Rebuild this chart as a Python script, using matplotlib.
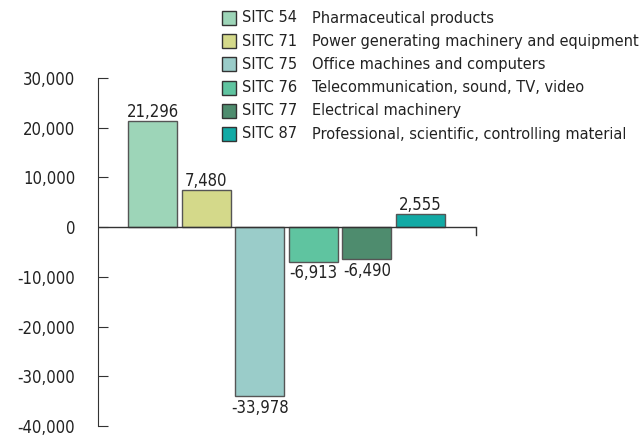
import matplotlib.pyplot as plt
from matplotlib.patches import Rectangle

codes = ['SITC 54', 'SITC 71', 'SITC 75', 'SITC 76', 'SITC 77', 'SITC 87']
names = ['Pharmaceutical products',
         'Power generating machinery and equipment',
         'Office machines and computers',
         'Telecommunication, sound, TV, video',
         'Electrical machinery',
         'Professional, scientific, controlling material']
values = [21296, 7480, -33978, -6913, -6490, 2555]
colors = ['#9dd5b8', '#d4d98a', '#9accc9', '#5fc4a0', '#4e8c6e', '#12aaa5']
yticks = [-40000, -30000, -20000, -10000, 0, 10000, 20000, 30000]

plt.rcParams['font.family'] = ['DejaVu Sans']
plt.rcParams['font.stretch'] = 'condensed'

fig = plt.figure(figsize=(6.43, 4.38), dpi=100)
ax = fig.add_axes([98 / 643, 12 / 438, 378 / 643, 348 / 438])

x = list(range(len(values)))
bars = ax.bar(x, values, width=0.915, color=colors, edgecolor='#555555', linewidth=1)

fs = 12
for xi, v in zip(x, values):
    if v >= 0:
        ax.text(xi, v, f'{v:,}', ha='center', va='bottom', fontsize=fs, color='#222222')
    else:
        ax.text(xi, v - 600, f'{v:,}', ha='center', va='top', fontsize=fs, color='#222222')

ax.set_xlim(-1.02, 6.04)
ax.set_ylim(-40000, 30000)
ax.set_yticks(yticks)
ax.set_yticklabels([f'{t:,}' for t in yticks])
ax.set_xticks([])
ax.tick_params(axis='y', direction='in', length=7, pad=16.5, labelsize=fs,
               color='#333333', labelcolor='#222222')
for s in ['top', 'right', 'bottom']:
    ax.spines[s].set_visible(False)
ax.spines['left'].set_color('#333333')

# zero line with the little end tick
ax.axhline(0, color='#333333', linewidth=1)
ax.plot([6.04, 6.04], [0, -1500], color='#333333', linewidth=1, clip_on=False)

# legend drawn by hand so code and name line up in two columns
W, H = 643, 438
lfs = 11.7
for i, (c, n, col) in enumerate(zip(codes, names, colors)):
    yc = 18 + i * 23.2
    fig.patches.append(Rectangle((222 / W, (H - yc - 7) / H), 14 / W, 14 / H,
                                 transform=fig.transFigure, facecolor=col,
                                 edgecolor='#333333', linewidth=1))
    fig.text(242 / W, (H - yc) / H, c, va='center', ha='left', fontsize=lfs, color='#222222')
    fig.text(312 / W, (H - yc) / H, n, va='center', ha='left', fontsize=lfs, color='#222222')

fig.savefig('out.png', dpi=100)
